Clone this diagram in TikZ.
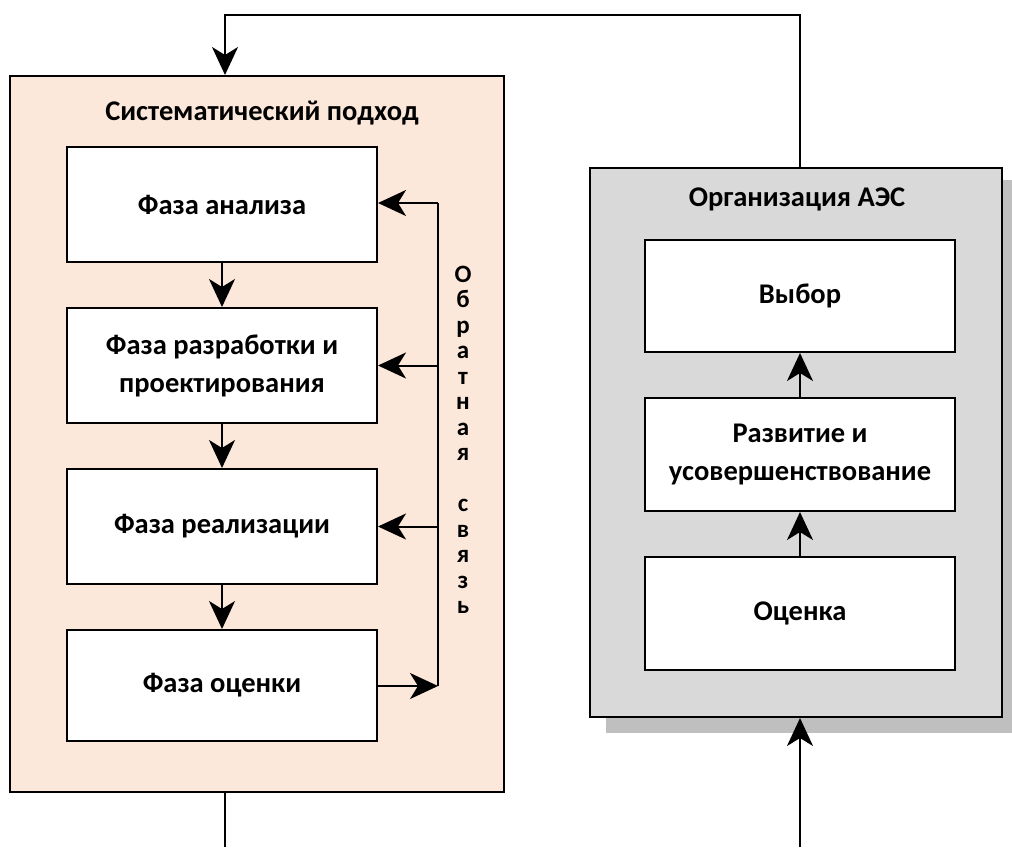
\documentclass[tikz,border=0pt]{standalone}
\usepackage{fontspec}
\setmainfont{Carlito}
\usetikzlibrary{arrows.meta}
\definecolor{peach}{HTML}{FCE8DA}
\definecolor{lgray}{HTML}{D9D9D9}
\definecolor{sgray}{HTML}{BFBFBF}
\begin{document}
\begin{tikzpicture}[x=1pt,y=-1pt,line width=2pt,
  txt/.style={font=\fontsize{28.5}{38}\selectfont\bfseries},
  inbox/.style={draw,fill=white,minimum width=310pt,align=center,inner sep=0pt,txt},
  arr/.style={-{Stealth[length=28pt,width=26pt,inset=8pt]}}]
\useasboundingbox (0,0) rectangle (1012,847);
% left container
\node[draw,fill=peach,minimum width=494pt,minimum height=716pt,inner sep=0pt] (L) at (257,434) {};
\node[txt] (Lt) at (262,113) {Систематический подход};
\node[inbox,minimum height=115pt] (b1) at (222,204.5) {Фаза анализа};
\node[inbox,minimum height=115pt] (b2) at (222,365.5) {Фаза разработки и\\проектирования};
\node[inbox,minimum height=115pt] (b3) at (222,526.5) {Фаза реализации};
\node[inbox,minimum height=111pt] (b4) at (222,685.5) {Фаза оценки};
\draw[arr] (b1) -- (b2);
\draw[arr] (b2) -- (b3);
\draw[arr] (b3) -- (b4);
\coordinate (fT) at (438,203);
\coordinate (f2) at (438,365.5);
\coordinate (f3) at (438,526.5);
\coordinate (fB) at (438,686);
\draw[arr] (b4.east |- fB) -- (fB);
\draw (fB) -- (fT);
\draw[arr] (fT) -- (b1.east |- fT);
\draw[arr] (f2) -- (b2.east);
\draw[arr] (f3) -- (b3.east);
\node[align=center,inner sep=0pt,font=\fontsize{25}{25.5}\selectfont\bfseries] (fbtxt) at (463,440)
  {О\\б\\р\\а\\т\\н\\а\\я\\[25.5pt]с\\в\\я\\з\\ь};
% right container
\fill[sgray] (606,180) rectangle (1012,733);
\node[draw,fill=lgray,minimum width=412pt,minimum height=549pt,inner sep=0pt] (R) at (796,442.5) {};
\node[txt] (Rt) at (797,199) {Организация АЭС};
\node[inbox,minimum height=112pt] (r1) at (800,296) {Выбор};
\node[inbox,minimum height=113pt] (r2) at (800,454.5) {Развитие и\\усовершенствование};
\node[inbox,minimum height=113pt] (r3) at (800,613.5) {Оценка};
\draw[arr] (r3) -- (r2);
\draw[arr] (r2) -- (r1);
% outer connections
\coordinate (tR) at (800,15);
\coordinate (tL) at (225,15);
\coordinate (bL) at (225,847);
\coordinate (bR) at (800,847);
\draw[arr] (R.north -| tR) -- (tR) -- (tL) -- (tL |- L.north);
\draw (tL |- L.south) -- (bL);
\draw[arr] (bR) -- (bR |- R.south);
\end{tikzpicture}
\end{document}
